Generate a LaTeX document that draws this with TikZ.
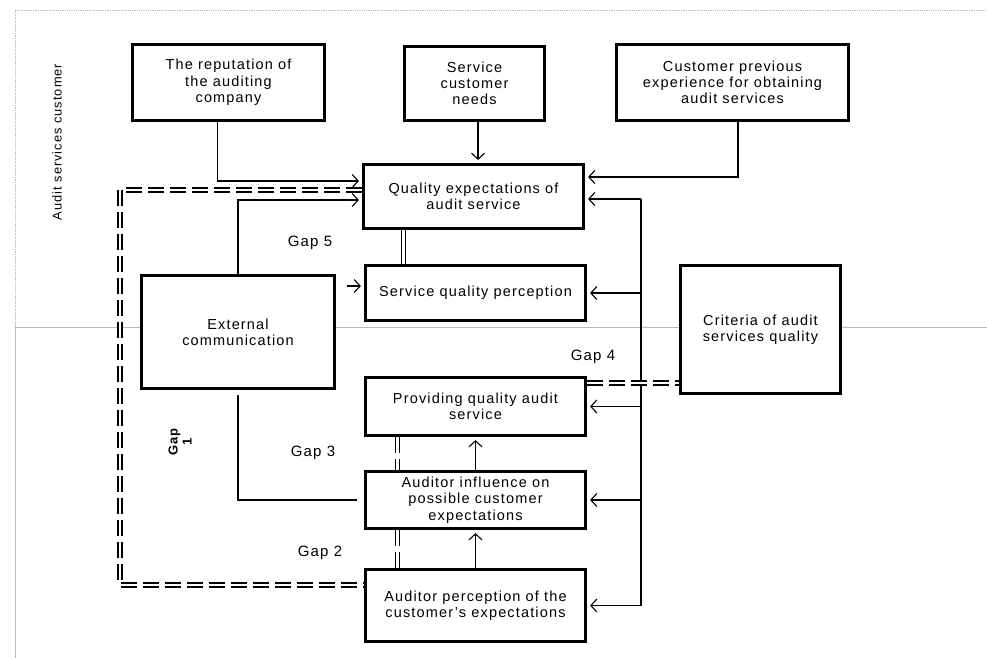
\documentclass[tikz,border=0pt]{standalone}
\usepackage{fontspec}
\setmainfont{Liberation Sans}[LetterSpace=8]
\usetikzlibrary{arrows.meta}
\tikzset{
  box/.style={draw, line width=3.2pt, fill=white, align=center, inner sep=0pt,
    font=\fontsize{14.5}{16.3}\selectfont},
  arr/.style={-{Straight Barb[length=6pt,width=13pt]}, line width=1.1pt, shorten >=3pt},
  link/.style={line width=1.1pt},
  gapsolid/.style={double, double distance=2.5pt, line width=1.5pt},
  gapdash/.style={gapsolid, dash pattern=on 16pt off 6pt},
  gaplabel/.style={font=\fontsize{15}{17}\selectfont},
  frameline/.style={gray!55, line width=0.8pt}
}
\begin{document}
\begin{tikzpicture}[x=1pt, y=-1pt]
\useasboundingbox[fill=white] (0,0) rectangle (987,658);
% frame
\draw[frameline, densely dotted] (15,327) -- (15,10) -- (987,10);
\draw[frameline] (15,658) -- (15,327) -- (987,327);
\node[rotate=90, font=\fontsize{12.8}{14}\selectfont] (side) at (57,142) {Audit services customer};
% boxes
\node[box, minimum width=192, minimum height=76] (rep) at (228.5,82.5) {The reputation of\\the auditing\\company};
\node[box, minimum width=140, minimum height=74] (needs) at (474.5,83.5) {Service\\customer\\needs};
\node[box, minimum width=232, minimum height=76] (prev) at (732.5,82.5) {Customer previous\\experience for obtaining\\audit services};
\node[box, minimum width=220, minimum height=64] (qexp) at (473.5,196.5) {Quality expectations of\\audit service};
\node[box, minimum width=220, minimum height=55] (sqp) at (475.5,293) {Service quality perception};
\node[box, minimum width=160, minimum height=128] (crit) at (760.5,329.5) {Criteria of audit\\services quality};
\node[box, minimum width=193, minimum height=113] (ext) at (238,332) {External\\communication};
\node[box, minimum width=220, minimum height=58] (prov) at (475.5,406.5) {Providing quality audit\\service};
\node[box, minimum width=220, minimum height=57] (infl) at (475.5,500) {Auditor influence on\\possible customer\\expectations};
\node[box, minimum width=220, minimum height=72] (aper) at (475.5,605.5) {Auditor perception of the\\customer's expectations};
% gap labels
\node[gaplabel] (gap5) at (310,243) {Gap 5};
\node[gaplabel] (gap4) at (593,357) {Gap 4};
\node[gaplabel] (gap3) at (313,453) {Gap 3};
\node[gaplabel] (gap2) at (320,553) {Gap 2};
\node[rotate=90, align=center, font=\bfseries\fontsize{13}{14}\selectfont] (gap1) at (180,442) {Gap\\1};
% inputs to expectations
\draw[arr] ([xshift=-11pt]rep.south) |- ([yshift=15.5pt]qexp.west);
\draw[arr] ([xshift=3.5pt]needs.south) -- ([xshift=3.5pt]needs.south |- qexp.north);
\draw[arr] ([xshift=5.5pt]prev.south) |- ([yshift=19.5pt]qexp.east);
\draw[arr] (ext.north) |- ([yshift=-3.5pt]qexp.west);
\draw[arr, shorten <=11pt] ([yshift=46pt]ext.east) -- ([yshift=7pt]sqp.west);
\draw[link, shorten <=5pt, shorten >=7pt] (ext.south) |- (infl.west);
% criteria bus
\coordinate (bt) at (641,199);
\coordinate (bb) at (bt |- aper.east);
\draw[link] (bt) -- (bb);
\draw[arr] (bt) -- ([yshift=-2.5pt]qexp.east);
\foreach \n in {sqp,prov,infl,aper}
  \draw[arr] (bt |- \n.east) -- (\n.east);
% upward flow
\draw[arr] (aper.north) -- (infl.south);
\draw[arr] (infl.north) -- (prov.south);
% gaps
\draw[gapsolid] ([xshift=-70pt]qexp.south) -- ([xshift=-70pt]qexp.south |- sqp.north);
\draw[gapdash] ([xshift=-78pt]prov.south) -- ([xshift=-78pt]prov.south |- infl.north);
\draw[gapdash] ([xshift=-78pt]infl.south) -- ([xshift=-78pt]infl.south |- aper.north);
\draw[gapdash] ([yshift=23.5pt]prov.east) -- ([yshift=23.5pt]prov.east -| crit.west);
\coordinate (gapcol) at (120,585);
\draw[gapdash] ([yshift=6.5pt]qexp.west) -| (gapcol) -- ([yshift=20.5pt]aper.west);
\end{tikzpicture}
\end{document}
